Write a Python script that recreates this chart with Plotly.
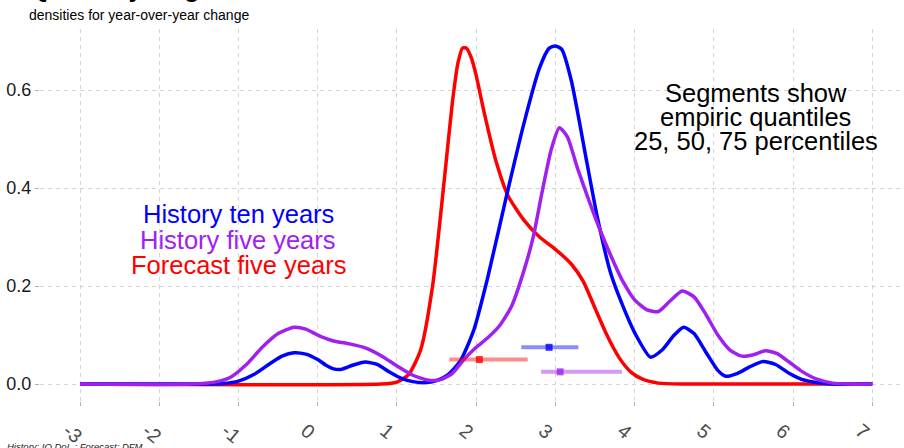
import plotly.graph_objects as go

# Density estimates of year-over-year change
x_ten = [-3.0, -1.5, -1.2, -1.0, -0.8, -0.6, -0.45, -0.3, -0.15, 0.0, 0.1, 0.2, 0.3, 0.45,
         0.6, 0.75, 0.9, 1.05, 1.2, 1.35, 1.5, 1.65, 1.8, 1.97, 2.15, 2.37, 2.6, 2.8, 2.92,
         3.0, 3.08, 3.2, 3.4, 3.53, 3.7, 3.85, 4.0, 4.2, 4.35, 4.5, 4.62, 4.75, 4.9, 5.05,
         5.15, 5.3, 5.45, 5.62, 5.78, 5.95, 6.1, 6.3, 6.5, 7.0]
den_ten = [0.0, 0.0, 0.001, 0.006, 0.02, 0.042, 0.057, 0.064, 0.061, 0.05, 0.039, 0.031, 0.03,
           0.039, 0.045, 0.04, 0.025, 0.012, 0.005, 0.003, 0.007, 0.02, 0.047, 0.11, 0.22,
           0.375, 0.53, 0.645, 0.685, 0.69, 0.683, 0.62, 0.45, 0.34, 0.225, 0.16, 0.105,
           0.055, 0.07, 0.1, 0.116, 0.103, 0.065, 0.028, 0.016, 0.022, 0.035, 0.046, 0.04,
           0.022, 0.01, 0.003, 0.0, 0.0]

x_five = [-3.0, -1.6, -1.3, -1.1, -0.9, -0.7, -0.5, -0.3, -0.15, 0.0, 0.2, 0.4, 0.6, 0.8,
          1.0, 1.2, 1.4, 1.55, 1.7, 1.84, 2.0, 2.15, 2.3, 2.45, 2.6, 2.72, 2.83, 2.95, 3.05,
          3.15, 3.28, 3.4, 3.55, 3.7, 3.85, 4.0, 4.15, 4.3, 4.45, 4.6, 4.75, 4.9, 5.05, 5.2,
          5.35, 5.5, 5.65, 5.8, 5.95, 6.1, 6.3, 6.5, 6.7, 7.0]
den_five = [0.0, 0.0, 0.004, 0.014, 0.04, 0.075, 0.103, 0.116, 0.112, 0.1, 0.088, 0.082,
            0.074, 0.058, 0.037, 0.018, 0.008, 0.009, 0.022, 0.049, 0.075, 0.095, 0.12, 0.16,
            0.23, 0.3, 0.39, 0.48, 0.523, 0.505, 0.44, 0.385, 0.32, 0.262, 0.21, 0.172, 0.152,
            0.148, 0.17, 0.19, 0.178, 0.142, 0.1, 0.07, 0.057, 0.06, 0.068, 0.062, 0.045,
            0.027, 0.01, 0.002, 0.0, 0.0]

x_fcst = [-3.0, 0.8, 1.0, 1.15, 1.3, 1.45, 1.6, 1.7, 1.77, 1.83, 1.88, 1.94, 2.0, 2.1, 2.25,
          2.4, 2.6, 2.8, 3.0, 3.2, 3.35, 3.5, 3.65, 3.8, 3.95, 4.1, 4.3, 4.6, 7.0]
den_fcst = [0.0, 0.0, 0.004, 0.02, 0.07, 0.2, 0.42, 0.575, 0.655, 0.686, 0.685, 0.665, 0.63,
            0.555, 0.455, 0.385, 0.335, 0.3, 0.275, 0.245, 0.21, 0.155, 0.1, 0.055, 0.025,
            0.01, 0.002, 0.0, 0.0]

# Empiric quartiles (25, 50, 75 percentiles) per series
series_names = ["History ten years", "History five years", "Forecast five years"]
q25 = [2.57, 2.82, 1.66]
q50 = [2.92, 3.06, 2.04]
q75 = [3.29, 3.84, 2.65]
seg_level = [0.075, 0.025, 0.05]

x_ticks = [-3, -2, -1, 0, 1, 2, 3, 4, 5, 6, 7]
x_ticktext = ["-3", "-2", "-1", "0", "1", "2", "3", "4", "5", "6", "7"]
y_ticks = [0.0, 0.2, 0.4, 0.6]

colors = ["#0000FF", "#A020F0", "#FF0000"]
seg_colors = ["rgba(0,0,255,0.45)", "rgba(160,32,240,0.45)", "rgba(255,0,0,0.45)"]
dot_colors = ["rgba(0,0,255,0.8)", "rgba(160,32,240,0.8)", "rgba(255,0,0,0.8)"]

FONT = "Liberation Sans, Arial, sans-serif"

fig = go.Figure()

curves = [(x_fcst, den_fcst, colors[2]), (x_ten, den_ten, colors[0]), (x_five, den_five, colors[1])]
for xs, ys, c in curves:
    fig.add_trace(go.Scatter(x=xs, y=ys, mode="lines",
                             line=dict(color=c, width=3.5, shape="spline", smoothing=0.6),
                             hoverinfo="skip", showlegend=False))

for i in range(3):
    fig.add_trace(go.Scatter(x=[q25[i], q75[i]], y=[seg_level[i], seg_level[i]], mode="lines",
                             line=dict(color=seg_colors[i], width=4),
                             hoverinfo="skip", showlegend=False))
    fig.add_trace(go.Scatter(x=[q50[i]], y=[seg_level[i]], mode="markers",
                             marker=dict(symbol="square", size=7, color=dot_colors[i],
                                         line=dict(width=0)),
                             hoverinfo="skip", showlegend=False))

# Series labels on the left
label_y = [0.347, 0.294, 0.243]
for name, c, yy in zip(series_names, colors, label_y):
    fig.add_annotation(x=-1.0, y=yy, xref="x", yref="y", text=name, showarrow=False,
                       font=dict(family=FONT, size=25.5, color=c),
                       xanchor="center", yanchor="middle")

# Explanatory note on the right
note_lines = ["Segments show", "empiric quantiles", "25, 50, 75 percentiles"]
note_y = [0.594, 0.545, 0.496]
for line, yy in zip(note_lines, note_y):
    fig.add_annotation(x=5.53, y=yy, xref="x", yref="y", text=line, showarrow=False,
                       font=dict(family=FONT, size=25.5, color="#000000"),
                       xanchor="center", yanchor="middle")

# Title, subtitle and caption
fig.add_annotation(x=-0.015, y=1.0675, xref="paper", yref="paper",
                   text="<b>Quarterly wage inflation</b>", showarrow=False,
                   font=dict(family=FONT, size=25.6, color="#000000"),
                   xanchor="left", yanchor="bottom")
fig.add_annotation(x=-0.015, y=1.038, xref="paper", yref="paper",
                   text="densities for year-over-year change", showarrow=False,
                   font=dict(family=FONT, size=14, color="#000000"),
                   xanchor="left", yanchor="middle")
fig.add_annotation(x=-0.041, y=-0.101, xref="paper", yref="paper",
                   text="<i>History: IO DoL ; Forecast: DFM</i>", showarrow=False,
                   font=dict(family=FONT, size=9.5, color="#222222"),
                   xanchor="left", yanchor="top")

grid = dict(showgrid=True, gridcolor="#d4d4d4", gridwidth=1, griddash="4px,4px",
            zeroline=False, showline=False, ticks="outside", ticklen=4,
            tickcolor="#b0b0b0", tickwidth=1)

fig.update_xaxes(range=[-3.505, 7.4], tickvals=x_ticks, ticktext=x_ticktext,
                 tickangle=40, ticklabelshift=-12, ticklabelstandoff=6,
                 tickfont=dict(family=FONT, size=19.5, color="#4D4D4D"), **grid)
fig.update_yaxes(range=[-0.0345, 0.7245], tickvals=y_ticks, tickformat=".1f",
                 tickfont=dict(family=FONT, size=18, color="#1A1A1A"), **grid)

fig.update_layout(width=904, height=448, autosize=False,
                  margin=dict(l=40, r=0, t=29, b=47, pad=0),
                  plot_bgcolor="white", paper_bgcolor="white",
                  showlegend=False)

fig.write_html("out.html", config={"displayModeBar": False})
